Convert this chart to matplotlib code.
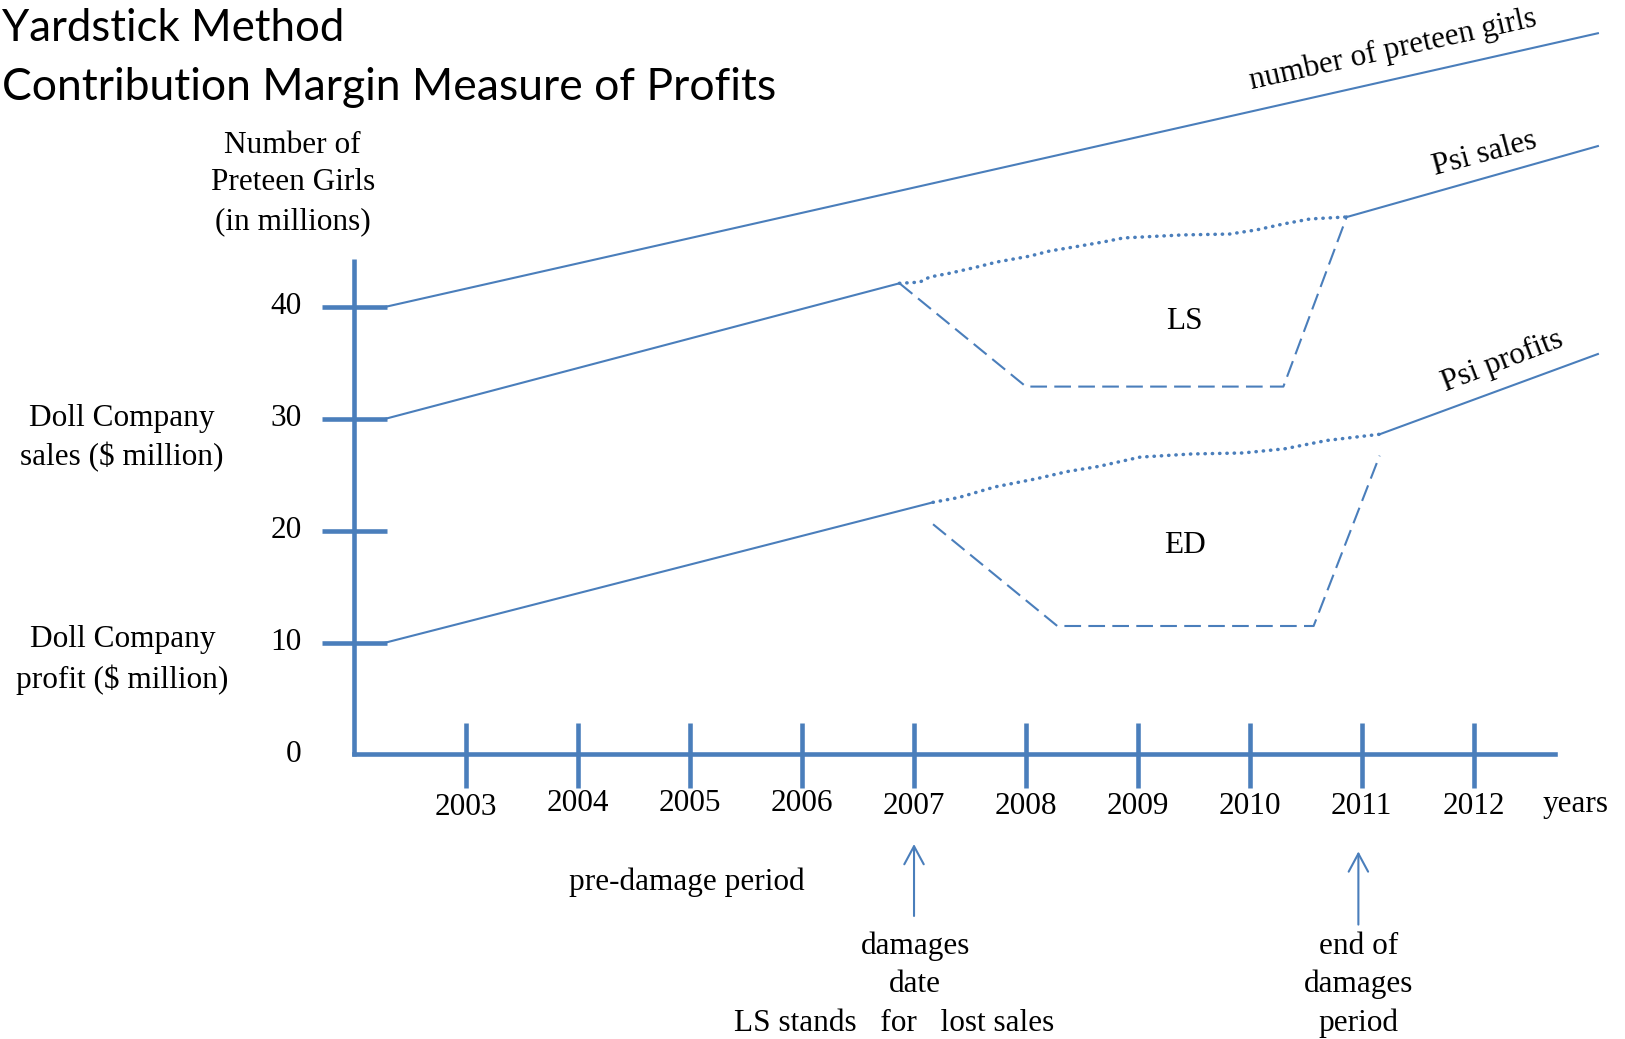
import matplotlib
matplotlib.use("Agg")
import matplotlib.pyplot as plt

# colours and fonts
blue = '#4a7ebb'
serif = 'Liberation Serif'

# --- data ---
girls_x = [2002.28, 2013.11]
girls_y = [40, 64.44]

sales_pre_x = [2002.28, 2006.87]
sales_pre_y = [30, 42.1]
sales_dot_x = [2006.87, 2007.05, 2007.14, 2007.32, 2007.56, 2007.74, 2008.04, 2008.21, 2008.48,
               2008.69, 2008.87, 2009.40, 2009.82, 2010.06, 2010.30, 2010.54, 2010.87]
sales_dot_y = [42.1, 42.2, 42.66, 43.0, 43.55, 44.0, 44.54, 44.98, 45.43,
               45.79, 46.15, 46.42, 46.5, 46.87, 47.4, 47.85, 48.03]
sales_post_x = [2010.87, 2013.11]
sales_post_y = [48.03, 54.36]
ls_x = [2006.87, 2008.0, 2010.30, 2010.87]
ls_y = [42.1, 32.87, 32.87, 48.15]

profit_pre_x = [2002.28, 2007.17]
profit_pre_y = [10, 22.53]
profit_dot_x = [2007.17, 2007.40, 2007.72, 2008.09, 2008.37, 2008.65, 2009.02, 2009.48,
                2009.94, 2010.31, 2010.69, 2011.16]
profit_dot_y = [22.53, 22.96, 23.9, 24.63, 25.28, 25.74, 26.57, 26.85,
                26.94, 27.31, 28.06, 28.61]
profit_post_x = [2011.16, 2013.11]
profit_post_y = [28.61, 35.78]
ed_x = [2007.17, 2008.28, 2010.57, 2011.16]
ed_y = [20.57, 11.48, 11.48, 26.7]

years = [2003, 2004, 2005, 2006, 2007, 2008, 2009, 2010, 2011, 2012]
year_label_y = [-4.73, -4.35, -4.35, -4.35, -4.63, -4.63, -4.63, -4.63, -4.63, -4.63]
y_ticks = [10, 20, 30, 40]
y_tick_labels = ['0', '10', '20', '30', '40']

# --- figure: one axes over the whole canvas, data units = years / values ---
fig = plt.figure(figsize=(16.25, 10.39), dpi=100)
ax = fig.add_axes([0, 0, 1, 1])
ax.set_xlim(1998.834, 2013.352)
ax.set_ylim(-25.42, 67.41)
ax.axis('off')

lw = 1.5
# solid trend lines
ax.plot(girls_x, girls_y, color=blue, lw=lw)
ax.plot(sales_pre_x, sales_pre_y, color=blue, lw=lw)
ax.plot(sales_post_x, sales_post_y, color=blue, lw=lw)
ax.plot(profit_pre_x, profit_pre_y, color=blue, lw=lw)
ax.plot(profit_post_x, profit_post_y, color=blue, lw=lw)

# dotted "but for" paths
dot = (0, (0.1, 2.0))
ax.plot(sales_dot_x, sales_dot_y, color=blue, lw=2.5, linestyle=dot, dash_capstyle='round')
ax.plot(profit_dot_x, profit_dot_y, color=blue, lw=2.5, linestyle=dot, dash_capstyle='round')

# dashed actual paths
ax.plot(ls_x, ls_y, color=blue, lw=lw, linestyle=(0, (8, 3.5)))
ax.plot(ed_x, ed_y, color=blue, lw=lw, linestyle=(0, (8, 3.5)))

# axes
alw = 3.3
ax.plot([2002, 2002], [-0.1, 44.24], color=blue, lw=alw, solid_capstyle='butt')
ax.plot([2002, 2012.73], [0, 0], color=blue, lw=alw, solid_capstyle='projecting')
for v in y_ticks:
    ax.plot([2001.71, 2002.29], [v, v], color=blue, lw=alw, solid_capstyle='butt')
for yr in years:
    ax.plot([yr, yr], [2.78, -2.97], color=blue, lw=alw, solid_capstyle='butt')

fs = 22.5
# tick labels
for v, lab in zip([0] + y_ticks, y_tick_labels):
    ax.text(2001.53, v, lab, family=serif, fontsize=fs, ha='right', va='center')
for yr, yy in zip(years, year_label_y):
    ax.text(yr, yy, str(yr), family=serif, fontsize=fs, ha='center', va='center')
ax.text(2012.91, -4.5, 'years', family=serif, fontsize=fs, ha='center', va='center')

# left side labels
for txt, yy in zip(['Number of', 'Preteen Girls', '(in millions)'], [54.45, 51.06, 47.57]):
    ax.text(2001.45, yy, txt, family=serif, fontsize=fs, ha='center', va='center')
for txt, yy in zip(['Doll Company', 'sales ($ million)'], [30.06, 26.6]):
    ax.text(1999.92, yy, txt, family=serif, fontsize=fs, ha='center', va='center')
for txt, yy in zip(['Doll Company', 'profit ($ million)'], [10.23, 6.66]):
    ax.text(1999.93, yy, txt, family=serif, fontsize=fs, ha='center', va='center')

# line labels
ax.text(2011.28, 62.95, 'number of preteen girls', family=serif, fontsize=fs,
        ha='center', va='center', rotation=12.5)
ax.text(2012.1, 53.7, 'Psi sales', family=serif, fontsize=fs,
        ha='center', va='center', rotation=15)
ax.text(2012.26, 35.1, 'Psi profits', family=serif, fontsize=fs,
        ha='center', va='center', rotation=21)
ax.text(2009.42, 38.7, 'LS', family=serif, fontsize=fs, ha='center', va='center')
ax.text(2009.42, 18.7, 'ED', family=serif, fontsize=fs, ha='center', va='center')

# bottom annotations
ax.text(2004.97, -11.4, 'pre-damage period', family=serif, fontsize=fs, ha='center', va='center')
arrow = dict(arrowstyle='->,head_length=1.3,head_width=0.7', color=blue, lw=1.5,
             mutation_scale=10, shrinkA=0, shrinkB=0)
ax.annotate('', xy=(2007.0, -8.0), xytext=(2007.0, -14.43), arrowprops=arrow)
ax.annotate('', xy=(2010.97, -8.66), xytext=(2010.97, -15.2), arrowprops=arrow)
for txt, yy in zip(['damages', 'date'], [-17.13, -20.56]):
    ax.text(2007.01, yy, txt, family=serif, fontsize=fs, ha='center', va='center')
for txt, yy in zip(['end of', 'damages', 'period'], [-17.13, -20.56, -23.99]):
    ax.text(2010.97, yy, txt, family=serif, fontsize=fs, ha='center', va='center')
ax.text(2006.82, -24.0, 'LS stands   for   lost sales', family=serif, fontsize=fs,
        ha='center', va='center')

# title block (Calibri look-alike)
fig.text(0.001, 1 - 41 / 1039, 'Yardstick Method', family='Lato', fontsize=31.5,
         ha='left', va='baseline')
fig.text(0.001, 1 - 100 / 1039, 'Contribution Margin Measure of Profits', family='Lato',
         fontsize=32, ha='left', va='baseline')

fig.savefig('out.png', dpi=100)
